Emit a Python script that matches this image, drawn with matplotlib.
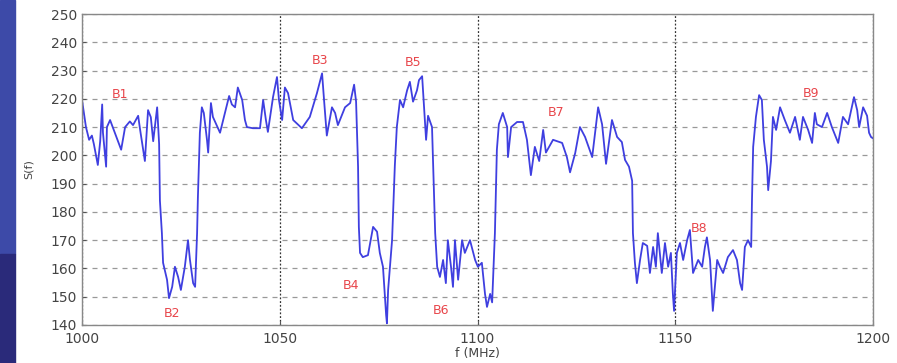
import matplotlib.pyplot as plt
from matplotlib.patches import Rectangle

plt.switch_backend('agg')

# frequency (MHz) and S(f)
freq = [1000.0, 1001.0, 1001.8, 1002.5, 1003.0, 1004.0, 1004.6, 1005.1, 1005.3, 1006.1,
        1006.3, 1007.1, 1008.3, 1009.9, 1010.9, 1012.1, 1012.9, 1014.2, 1014.7, 1015.9,
        1016.7, 1017.4, 1018.0, 1019.0, 1019.5, 1019.7, 1020.2, 1020.5, 1021.5, 1022.0,
        1022.8, 1023.5, 1024.3, 1025.0, 1026.0, 1026.8, 1027.3, 1028.1, 1028.6, 1029.1,
        1029.3, 1029.8, 1030.3, 1030.8, 1031.6, 1031.9, 1032.6, 1033.1, 1034.9, 1035.7,
        1037.2, 1037.9, 1038.7, 1039.4, 1040.5, 1041.2, 1041.7, 1043.2, 1045.0, 1045.8,
        1046.5, 1047.0, 1047.8, 1048.3, 1049.3, 1049.8, 1050.6, 1051.3, 1052.1, 1053.4,
        1055.6, 1057.6, 1059.4, 1060.7, 1061.2, 1061.9, 1063.2, 1064.0, 1064.7, 1066.5,
        1067.8, 1068.8, 1069.3, 1069.8, 1070.0, 1070.3, 1071.0, 1072.3, 1073.6, 1074.6,
        1075.3, 1076.1, 1076.9, 1077.1, 1077.4, 1078.4, 1079.1, 1079.6, 1080.4, 1081.2,
        1082.2, 1082.9, 1083.7, 1084.7, 1085.2, 1086.0, 1086.5, 1087.0, 1087.5, 1088.5,
        1088.8, 1089.3, 1089.8, 1090.5, 1091.3, 1092.0, 1092.5, 1093.3, 1093.8, 1094.3,
        1095.1, 1096.1, 1096.8, 1098.1, 1099.4, 1100.1, 1101.1, 1101.9, 1102.4, 1103.2,
        1103.7, 1104.4, 1104.9, 1105.4, 1106.4, 1107.5, 1107.7, 1108.5, 1110.0, 1111.5,
        1112.5, 1113.5, 1114.5, 1115.6, 1116.6, 1117.3, 1119.1, 1121.4, 1122.6, 1123.4,
        1124.7, 1125.9, 1127.2, 1129.0, 1130.5, 1131.5, 1132.5, 1134.0, 1135.3, 1136.5,
        1137.3, 1138.3, 1139.1, 1139.3, 1139.8, 1140.3, 1141.1, 1141.8, 1142.9, 1143.6,
        1144.4, 1145.1, 1145.6, 1146.6, 1147.4, 1148.2, 1148.9, 1149.4, 1149.7, 1150.4,
        1151.2, 1152.0, 1153.0, 1153.7, 1154.5, 1155.8, 1156.8, 1157.5, 1158.0, 1158.8,
        1159.5, 1160.6, 1161.3, 1162.1, 1163.3, 1164.6, 1165.6, 1166.4, 1166.9, 1167.6,
        1168.4, 1169.2, 1169.4, 1169.7, 1170.4, 1171.2, 1171.9, 1172.4, 1173.2, 1173.5,
        1174.2, 1174.7, 1175.5, 1176.5, 1177.7, 1179.0, 1180.3, 1181.5, 1182.3, 1183.6,
        1184.6, 1185.3, 1185.8, 1187.1, 1188.4, 1189.6, 1191.2, 1192.4, 1193.7, 1195.2,
        1196.0, 1196.5, 1197.5, 1198.5, 1199.0, 1199.5, 1200.0]

sval = [219.6, 210.0, 205.5, 207.0, 204.0, 196.6, 205.0, 218.0, 208.0, 196.0,
        210.0, 212.5, 208.0, 202.0, 210.0, 212.0, 210.7, 214.0, 209.0, 198.0,
        216.0, 213.5, 205.0, 217.0, 204.0, 184.0, 172.5, 162.0, 156.0, 149.5,
        153.5, 160.6, 157.0, 152.4, 160.6, 170.0, 163.0, 154.8, 153.5, 172.5,
        185.0, 208.0, 217.0, 215.0, 205.5, 201.0, 218.5, 213.6, 208.0, 212.5,
        221.0, 218.0, 217.0, 224.0, 219.6, 212.5, 210.0, 209.6, 209.6, 219.6,
        212.5, 208.3, 216.0, 220.6, 227.7, 219.6, 212.5, 224.0, 222.0, 212.5,
        209.6, 213.6, 222.0, 229.0, 219.6, 207.0, 217.0, 215.0, 210.7, 217.0,
        218.5, 225.0, 219.0, 196.0, 174.7, 165.5, 164.0, 164.7, 174.7, 173.0,
        165.5, 160.6, 143.5, 140.6, 152.4, 170.0, 196.4, 210.0, 219.6, 217.0,
        223.0, 226.0, 219.0, 223.0, 226.6, 228.0, 217.0, 205.5, 214.0, 210.0,
        196.0, 172.5, 160.6, 157.0, 163.0, 154.8, 170.0, 160.6, 153.5, 170.0,
        156.0, 170.0, 165.5, 170.0, 163.0, 160.6, 162.0, 151.0, 146.4, 151.0,
        148.0, 172.5, 202.0, 211.0, 215.0, 210.0, 199.4, 210.0, 211.8, 211.8,
        205.5, 193.0, 203.0, 198.0, 209.0, 201.0, 205.5, 204.4, 199.4, 194.0,
        200.8, 210.0, 206.5, 199.4, 217.0, 211.0, 197.0, 212.5, 206.5, 204.7,
        198.4, 196.0, 191.0, 172.5, 162.0, 154.8, 163.0, 169.0, 168.0, 158.4,
        167.6, 160.6, 172.5, 158.4, 169.0, 160.6, 165.5, 151.0, 145.0, 165.5,
        169.0, 163.0, 170.0, 173.6, 158.4, 163.0, 160.6, 167.6, 171.0, 163.0,
        145.0, 163.0, 160.6, 158.4, 164.0, 166.5, 163.0, 154.8, 152.4, 167.6,
        170.0, 167.6, 184.0, 203.0, 213.6, 221.3, 219.6, 205.5, 196.0, 187.7,
        198.0, 213.6, 209.0, 217.0, 212.5, 208.0, 213.6, 205.5, 213.6, 209.0,
        204.4, 215.0, 211.0, 210.0, 215.0, 210.0, 204.4, 213.6, 211.0, 220.6,
        216.0, 210.0, 217.0, 214.0, 208.0, 206.5, 206.0]

band_names = ['B1', 'B2', 'B3', 'B4', 'B5', 'B6', 'B7', 'B8', 'B9']
band_f = [1009.6, 1022.8, 1060.2, 1068.0, 1083.7, 1090.8, 1119.8, 1156.0, 1184.3]
band_s = [221.7, 144.0, 233.7, 154.0, 233.0, 145.0, 215.3, 174.3, 222.0]

xticks = [1000, 1050, 1100, 1150, 1200]
yticks = list(range(140, 251, 10))


def main():
    fig = plt.figure(figsize=(8.97, 3.63), dpi=100)
    # slide background peeking in on the left
    fig.patches.append(Rectangle((0, 0.3), 15 / 897, 0.7, transform=fig.transFigure,
                                 color='#3d4aa8', zorder=0))
    fig.patches.append(Rectangle((0, 0), 15 / 897, 0.3, transform=fig.transFigure,
                                 color='#2a2a7a', zorder=0))
    ax = fig.add_axes([82 / 897, 1 - 325 / 363, 791 / 897, 311 / 363])

    ax.set_xlim(1000, 1200)
    ax.set_ylim(140, 250)
    ax.set_xticks(xticks)
    ax.set_yticks(yticks)
    ax.tick_params(direction='in', length=3, labelsize=10, colors='#555555',
                   labelcolor='#444444')
    ax.tick_params(axis='x', pad=5)

    ax.yaxis.grid(True, linestyle=(0, (4, 4)), color='#999999', linewidth=0.9)
    ax.xaxis.grid(True, linestyle=(0, (1.5, 1.5)), color='#333333', linewidth=0.9)
    ax.set_axisbelow(True)
    for sp in ax.spines.values():
        sp.set_color('#888888')
        sp.set_linewidth(1.0)

    ax.plot(freq, sval, color='#3f3fe0', linewidth=1.3)

    for name, f, s in zip(band_names, band_f, band_s):
        ax.text(f, s, name, color='#e8454a', fontsize=9, ha='center', va='center')

    ax.set_xlabel('f (MHz)', fontsize=9, color='#444444', labelpad=1)
    ax.set_ylabel('S(f)', fontsize=8, color='#444444', labelpad=12)

    fig.savefig('out.png', dpi=100)
    plt.close(fig)


if __name__ == '__main__':
    main()
